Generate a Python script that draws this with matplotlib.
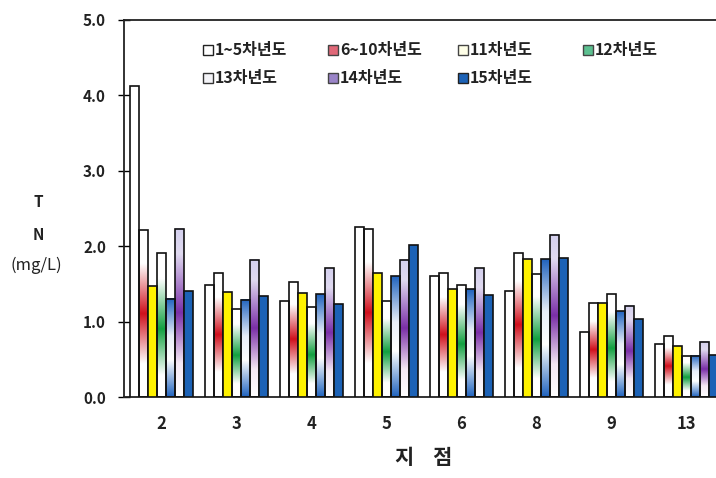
import numpy as np
import matplotlib
matplotlib.use("Agg")
import matplotlib.pyplot as plt
from matplotlib.colors import LinearSegmentedColormap
from matplotlib.patches import Rectangle

plt.rcParams['font.family'] = ['Noto Sans CJK KR', 'DejaVu Sans']

sites = ['2', '3', '4', '5', '6', '8', '9', '13']
series = ['1~5차년도', '6~10차년도', '11차년도', '12차년도', '13차년도', '14차년도', '15차년도']

v_1_5 = [4.12, 1.49, 1.27, 2.25, 1.61, 1.41, 0.86, 0.70]
v_6_10 = [2.21, 1.65, 1.53, 2.23, 1.65, 1.91, 1.25, 0.81]
v_11 = [1.47, 1.39, 1.38, 1.65, 1.43, 1.83, 1.25, 0.67]
v_12 = [1.91, 1.17, 1.19, 1.27, 1.49, 1.63, 1.37, 0.55]
v_13 = [1.30, 1.29, 1.36, 1.60, 1.43, 1.83, 1.14, 0.55]
v_14 = [2.23, 1.82, 1.71, 1.82, 1.71, 2.15, 1.21, 0.73]
v_15 = [1.41, 1.34, 1.24, 2.01, 1.35, 1.85, 1.03, 0.56]
values = [v_1_5, v_6_10, v_11, v_12, v_13, v_14, v_15]

yticks = [0, 1, 2, 3, 4, 5]

W = 'white'
# gradient definitions (bottom -> top)
fills = [
    ('solid', '#FFFFFF'),
    ('grad', [(0, W), (0.2, W), (0.5, '#D0101C'), (0.8, W), (1, W)]),
    ('solid', '#FFF200'),
    ('grad', [(0, W), (0.15, W), (0.47, '#12A040'), (0.82, W), (1, W)]),
    ('grad', [(0, '#2063BE'), (0.38, W), (0.62, '#E8EEF8'), (1, '#2063BE')]),
    ('grad', [(0, W), (0.2, '#F4E8F4'), (0.5, '#7A2FA8'), (0.85, '#E0DAF0'), (1, '#D4D0EE')]),
    ('solid', '#1C62B6'),
]
legend_colors = ['#FFFFFF', '#E06878', '#FFFFE8', '#5CC090', '#F4F4F8', '#9A84C8', '#1C62B6']
legend_edges = ['#222222', '#444444', '#444444', '#444444', '#333333', '#444444', '#222222']

fig = plt.figure(figsize=(7.16, 4.78), dpi=100)
ax = fig.add_axes([124/716, 81/478, 600/716, 377/478])

n = len(series)
bw = 0.12
x = np.arange(len(sites))
for i, (vals, fill) in enumerate(zip(values, fills)):
    offs = x + (i - (n - 1) / 2) * bw
    if fill[0] == 'solid':
        ax.bar(offs, vals, width=bw, color=fill[1], edgecolor='#111111', linewidth=1.2, zorder=3)
    else:
        cmap = LinearSegmentedColormap.from_list('g%d' % i, fill[1])
        grad = np.linspace(0, 1, 256).reshape(-1, 1)
        for xc, h in zip(offs, vals):
            ax.imshow(grad, cmap=cmap, extent=(xc - bw/2, xc + bw/2, 0, h), origin='lower',
                      aspect='auto', interpolation='bilinear', zorder=2)
        ax.bar(offs, vals, width=bw, facecolor='none', edgecolor='#111111', linewidth=1.2, zorder=3)

ax.set_xlim(-0.5, len(sites) - 0.5)
ax.set_ylim(0, 5)
ax.set_xticks(x)
ax.set_xticklabels(sites, fontsize=12, fontweight='bold', color='#222222')
ax.set_yticks(yticks)
ax.set_yticklabels(['%.1f' % t for t in yticks], fontsize=11, fontweight='bold', color='#222222')
ax.tick_params(axis='x', length=0, pad=13)
ax.tick_params(axis='y', direction='inout', length=8, width=1.0, pad=9)
for s in ax.spines.values():
    s.set_linewidth(1.3)
    s.set_color('#222222')

ax.set_xlabel('지    점', fontsize=15, fontweight='bold', labelpad=10, color='#222222')

fig.text(38/716, 1 - 202/478, 'T', ha='center', va='center', fontsize=11, fontweight='bold', color='#222222')
fig.text(38/716, 1 - 235/478, 'N', ha='center', va='center', fontsize=11, fontweight='bold', color='#222222')
fig.text(36/716, 1 - 265/478, '(mg/L)', ha='center', va='center', fontsize=12, color='#222222')

# legend
colx = [203, 328, 458, 583]
rowy = [50, 78]
for k, lab in enumerate(series):
    c, r = k % 4, k // 4
    px, py = colx[c], rowy[r]
    fig.patches.append(Rectangle((px/716, 1 - (py + 5)/478), 10/716, 10/478, transform=fig.transFigure,
                                 facecolor=legend_colors[k], edgecolor=legend_edges[k], linewidth=1.0))
    fig.text((px + 12)/716, 1 - py/478, lab, ha='left', va='center', fontsize=11.5, fontweight='bold',
             color='#222222')

fig.savefig('out.png', dpi=100)
